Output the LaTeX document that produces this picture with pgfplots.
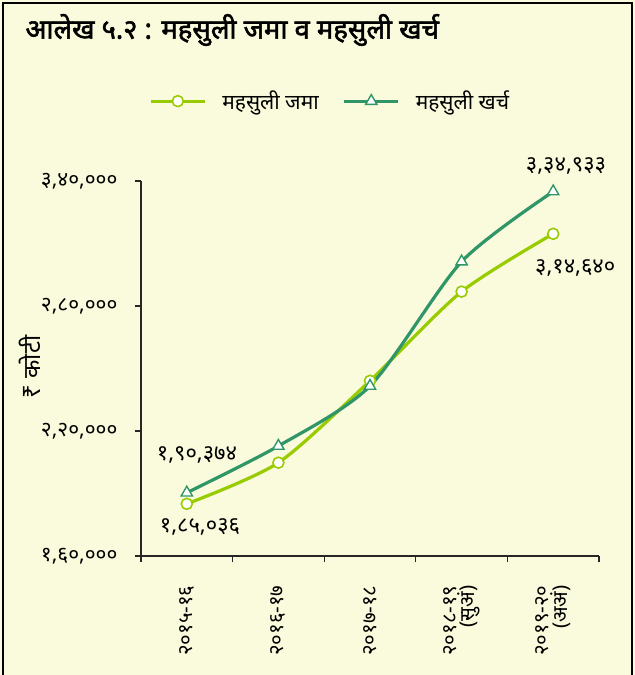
\documentclass[border=0pt]{standalone}
\usepackage{pgfplots}
\pgfplotsset{compat=1.18}
\usepackage{fontspec}
\setmainfont{Noto Sans}
\newfontfamily\dev[Script=Devanagari]{Noto Sans}
\newfontfamily\devb[Script=Devanagari,FakeBold=2]{Noto Sans}
\newcommand{\yl}{\dev\fontsize{21}{21}\selectfont}
\newcommand{\xl}{\dev\fontsize{20.5}{17}\selectfont}
\definecolor{bgc}{RGB}{250,250,220}
\definecolor{jama}{RGB}{153,204,0}
\definecolor{kharch}{RGB}{48,150,104}
\begin{document}
\begin{tikzpicture}[x=1bp,y=1bp]
\useasboundingbox (-141,-119) rectangle (494,556);
\fill[bgc] (-141,-119) rectangle (494,556);
\draw[black,line width=1.6bp] (-138,-125) -- (-138,553) -- (491,553) -- (491,-125);
\node[anchor=west,font=\devb\fontsize{27.5}{30}\selectfont] at (-119,526) {आलेख ५.२ : महसुली जमा व महसुली खर्च};
\node[rotate=90,font=\dev\fontsize{24}{28}\selectfont] at (-111,189) {₹ कोटी};
\begin{axis}[
  scale only axis, width=458bp, height=375bp,
  clip=false,
  xmin=-0.5, xmax=4.5, ymin=160000, ymax=340000,
  scaled y ticks=false,
  axis x line*=bottom, axis y line*=left,
  axis line style={line width=1.3bp, black!85},
  xtick={0,1,2,3,4},
  xticklabels={{\xl २०१५-१६},{\xl २०१६-१७},{\xl २०१७-१८},{\xl २०१८-१९\\\xl (सुअं)},{\xl २०१९-२०\\\xl (अअं)}},
  xticklabel style={rotate=90, anchor=east, align=right, font=\xl, xshift=-20bp},
  major x tick style={draw=none},
  minor xtick={-0.5,0.5,1.5,2.5,3.5,4.5},
  minor x tick style={line width=1.3bp, black!85},
  minor tick length=6bp,
  ytick={160000,220000,280000,340000},
  yticklabels={{\yl १,६०,०००},{\yl २,२०,०००},{\yl २,८०,०००},{\yl ३,४०,०००}},
  yticklabel style={font=\yl, xshift=-14bp},
  major y tick style={line width=1.3bp, black!85},
  major tick length=6bp,
  tick align=outside,
  legend columns=2,
  legend style={at={(0.413,1.213)}, anchor=center, draw=none, fill=none,
    font=\dev\fontsize{21}{24}\selectfont,
    /tikz/every odd column/.append style={column sep=14bp},
    /tikz/every even column/.append style={column sep=22bp}},
  legend image code/.code={\draw[#1,mark repeat=2,mark phase=2] plot coordinates {(0bp,0bp) (27bp,0bp) (54bp,0bp)};},
]
\addplot[color=jama, line width=3.2bp, smooth, tension=0.45, mark=*, mark size=5.5bp,
  mark options={fill=white, draw=jama, line width=1.6bp, solid}]
  coordinates {(0,185036) (1,204800) (2,244100) (3,286900) (4,314640)};
\addlegendentry{महसुली जमा}
\addplot[color=kharch, line width=3.2bp, smooth, tension=0.45, mark=triangle*, mark size=6.5bp,
  mark options={fill=white, draw=kharch, line width=1.4bp, solid}]
  coordinates {(0,190374) (1,212800) (2,241600) (3,301300) (4,334933)};
\addlegendentry{महसुली खर्च}
\node[font=\dev\fontsize{22}{22}\selectfont] at (axis cs:0.111,208480) {१,९०,३७४};
\node[font=\dev\fontsize{22}{22}\selectfont] at (axis cs:0.144,173920) {१,८५,०३६};
\node[font=\dev\fontsize{22}{22}\selectfont] at (axis cs:4.14,347200) {३,३४,९३३};
\node[font=\dev\fontsize{22}{22}\selectfont] at (axis cs:4.24,298240) {३,१४,६४०};
\end{axis}
\end{tikzpicture}
\end{document}
